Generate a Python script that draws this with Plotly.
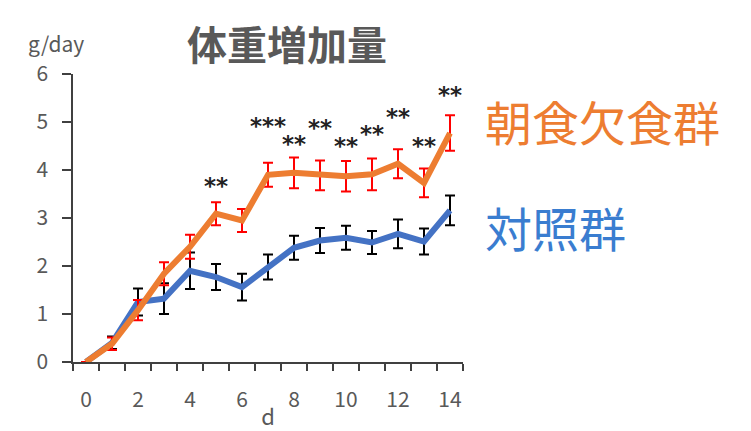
import plotly.graph_objects as go

# days 0..14
days = list(range(15))
tick_days = [0, 2, 4, 6, 8, 10, 12, 14]

# 朝食欠食群 (mean, sd)
skip_mean = [0.0, 0.38, 1.08, 1.84, 2.40, 3.09, 2.95, 3.90, 3.94, 3.89, 3.87, 3.91, 4.13, 3.73, 4.77]
skip_err = [0.0, 0.13, 0.21, 0.24, 0.25, 0.24, 0.24, 0.25, 0.32, 0.31, 0.32, 0.33, 0.30, 0.30, 0.37]

# 対照群 (mean, sd)
ctrl_mean = [0.0, 0.40, 1.25, 1.32, 1.90, 1.77, 1.56, 1.98, 2.38, 2.53, 2.59, 2.49, 2.67, 2.51, 3.16]
ctrl_err = [0.0, 0.13, 0.28, 0.32, 0.38, 0.27, 0.28, 0.26, 0.25, 0.26, 0.25, 0.24, 0.30, 0.27, 0.31]

# significance marks
star_text = ["", "", "", "", "", "**", "", "***", "**", "**", "**", "**", "**", "**", "**"]
star_y = [None, None, None, None, None, 3.63, None, 4.87, 4.5, 4.83, 4.46, 4.71, 5.06, 4.46, 5.52]

ORANGE = "#ED7D31"
BLUE = "#4472C4"
GREY = "#595959"

fig = go.Figure()

fig.add_trace(go.Scatter(
    x=days, y=ctrl_mean, mode="lines",
    line=dict(color=BLUE, width=6),
    error_y=dict(type="data", array=ctrl_err, color="black", thickness=2, width=5),
))
fig.add_trace(go.Scatter(
    x=days, y=skip_mean, mode="lines",
    line=dict(color=ORANGE, width=6),
    error_y=dict(type="data", array=skip_err, color="red", thickness=2, width=5),
))
fig.add_trace(go.Scatter(
    x=days, y=star_y, mode="text", text=star_text,
    textposition="middle center",
    textfont=dict(family="DejaVu Sans", size=23, color="#222222", weight="bold"),
))

fig.update_xaxes(
    range=[-0.5, 14.5], tickvals=tick_days, ticks="",
    showline=True, linecolor="#404040", linewidth=1.5,
    showgrid=False, zeroline=False, automargin=False,
    tickfont=dict(family="Noto Sans CJK JP", size=21, color=GREY),
    ticklabelstandoff=18,
    minor=dict(tick0=-0.5, dtick=1, ticks="outside", ticklen=7,
               tickcolor="#404040", tickwidth=1.5, showgrid=False),
    title=dict(text="d", font=dict(family="Noto Sans CJK JP", size=22, color=GREY), standoff=0),
)
fig.update_yaxes(
    range=[0, 6], dtick=1, ticks="outside", ticklen=9,
    tickcolor="#404040", tickwidth=1.5,
    showline=True, linecolor="#404040", linewidth=1.5,
    showgrid=False, zeroline=False, automargin=False,
    tickfont=dict(family="Noto Sans CJK JP", size=21, color=GREY),
    ticklabelstandoff=10,
)

fig.add_annotation(text="<b>体重増加量</b>", xref="paper", yref="paper", x=0.549, y=1.108,
                   xanchor="center", yanchor="middle", showarrow=False,
                   font=dict(family="Noto Sans CJK JP", size=40, color=GREY))
fig.add_annotation(text="g/day", xref="paper", yref="paper", x=-0.043, y=1.108,
                   xanchor="center", yanchor="middle", showarrow=False,
                   font=dict(family="Noto Sans CJK JP", size=21, color=GREY))
fig.add_annotation(text="朝食欠食群", xref="paper", yref="paper", x=1.051, y=0.837,
                   xanchor="left", yanchor="middle", showarrow=False,
                   font=dict(family="Noto Sans CJK JP", size=47, color=ORANGE))
fig.add_annotation(text="対照群", xref="paper", yref="paper", x=1.051, y=0.472,
                   xanchor="left", yanchor="middle", showarrow=False,
                   font=dict(family="Noto Sans CJK JP", size=47, color="#3A7DD0"))

fig.update_layout(
    width=743, height=423,
    margin=dict(l=65, r=288, t=66, b=69),
    plot_bgcolor="white", paper_bgcolor="white",
    showlegend=False,
)

fig.write_html("out.html")
